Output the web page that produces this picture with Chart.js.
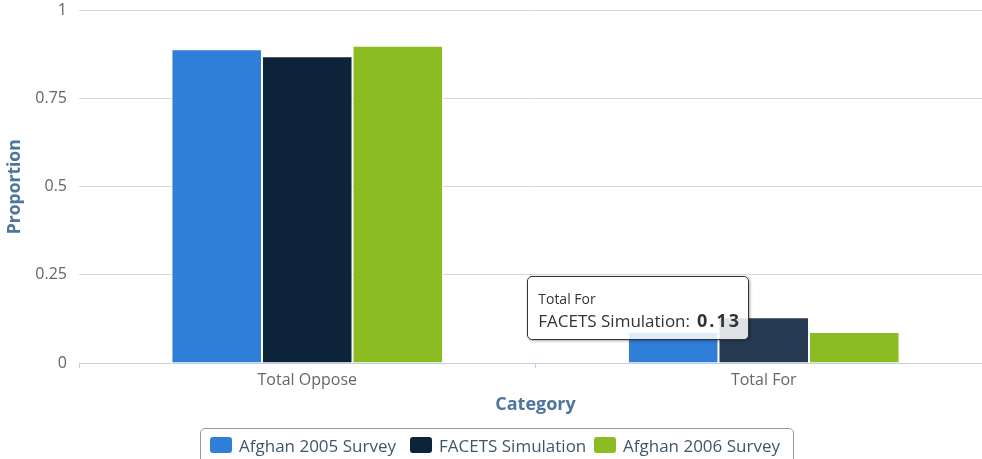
<!DOCTYPE html>
<html>
<head>
<meta charset="utf-8">
<script src="https://cdn.jsdelivr.net/npm/chart.js@4.4.1/dist/chart.umd.min.js"></script>
<style>
  body { margin: 0; background: #fff; font-family: "Open Sans", sans-serif; }
  #wrap { position: relative; width: 982px; height: 459px; overflow: hidden; }
  #legend { position: absolute; left: 200px; top: 428px; width: 594px; height: 40px;
            border: 1px solid #989898; border-radius: 5px; box-sizing: border-box; }
  .item { position: absolute; top: 8px; height: 16px; display: flex; align-items: center;
          font-size: 17px; color: #3e576f; white-space: nowrap; }
  .sw { width: 22px; height: 16px; border-radius: 3px; margin-right: 7px; flex: none; }
  #tip { position: absolute; box-sizing: border-box; width: 222px; height: 64px;
         background: rgba(255,255,255,0.85); border: 1px solid #333; border-radius: 5px;
         box-shadow: 1px 1px 3px rgba(0,0,0,0.35); padding: 12px 0 0 10px; color: #333;
         pointer-events: none; display: none; }
  #tip .t { font-size: 14px; line-height: 19px; }
  #tip .b { font-size: 17px; line-height: 22px; margin-top: 1px; color: #333; white-space: nowrap; }
  #tip .b b { font-size: 18px; letter-spacing: 2px; margin-left: 7px; }
</style>
</head>
<body>
<div id="wrap">
  <canvas id="grafico" width="992" height="459"></canvas>
  <div id="legend"></div>
  <div id="tip"></div>
</div>
<script>
// dados
const categorias = ['Total Oppose', 'Total For'];
const afghan2005 = [0.89, 0.088];
const facets = [0.87, 0.13];
const afghan2006 = [0.90, 0.088];
const yTicks = [0, 0.25, 0.5, 0.75, 1];

const series = [
  { label: 'Afghan 2005 Survey', data: afghan2005, cor: '#2f7ed8', hover: '#4a91e3' },
  { label: 'FACETS Simulation', data: facets, cor: '#0d233a', hover: '#263b52' },
  { label: 'Afghan 2006 Survey', data: afghan2006, cor: '#8bbc21', hover: '#9dca3a' }
];

// tooltip em HTML (estilo antigo)
function tooltipExterno(context) {
  const tip = document.getElementById('tip');
  const tt = context.tooltip;
  if (tt.opacity === 0) { tip.style.display = 'none'; return; }
  const p = tt.dataPoints[0];
  tip.innerHTML = '<div class="t">' + tt.title[0] + '</div>' +
    '<div class="b">' + p.dataset.label + ':<b>' + p.parsed.y.toFixed(2) + '</b></div>';
  tip.style.display = 'block';
  tip.style.left = (tt.caretX - 236.5) + 'px';
  tip.style.top = (tt.caretY - 41) + 'px';
}

const ctx = document.getElementById('grafico').getContext('2d');
const chart = new Chart(ctx, {
  type: 'bar',
  data: {
    labels: categorias,
    datasets: series.map(s => ({
      label: s.label,
      data: s.data,
      backgroundColor: s.cor,
      hoverBackgroundColor: s.hover,
      borderColor: '#ffffff',
      hoverBorderColor: '#ffffff',
      borderWidth: 1,
      categoryPercentage: 0.595,
      barPercentage: 1
    }))
  },
  options: {
    responsive: false,
    animation: false,
    events: [],
    layout: { padding: { top: 10.5, right: 0, bottom: 43, left: 0 } },
    plugins: {
      legend: { display: false },
      tooltip: { enabled: false, external: tooltipExterno, mode: 'nearest', intersect: true }
    },
    scales: {
      x: {
        grid: { display: true, drawOnChartArea: false, drawTicks: true, tickLength: 5, color: '#C0D0E0', offset: true },
        border: { display: true, color: '#C0D0E0' },
        ticks: { color: '#666', font: { family: 'Open Sans', size: 16 }, padding: 3 },
        title: { display: true, text: 'Category', color: '#4d759e',
                 font: { family: 'Open Sans', size: 18, weight: 'bold' }, padding: { top: 0, bottom: 0 } },
        afterFit: s => { s.height = 53; }
      },
      y: {
        min: 0,
        max: 1,
        afterBuildTicks: s => { s.ticks = yTicks.map(v => ({ value: v })); },
        grid: { color: '#D8D8D8', drawTicks: false },
        border: { display: false },
        ticks: { color: '#666', font: { family: 'Open Sans', size: 16 }, padding: 12,
                 callback: v => String(v) },
        title: { display: true, text: 'Proportion', color: '#4d759e',
                 font: { family: 'Open Sans', size: 17.5, weight: 'bold' }, padding: { top: 5, bottom: 0 } },
        afterFit: s => { s.width = 79; s.paddingTop = 0; s.paddingBottom = 0; }
      }
    }
  }
});

// legenda em HTML a partir dos datasets
const posLegenda = [9, 209, 393];
const legenda = document.getElementById('legend');
chart.data.datasets.forEach((ds, i) => {
  const item = document.createElement('div');
  item.className = 'item';
  item.style.left = posLegenda[i] + 'px';
  item.innerHTML = '<span class="sw" style="background:' + series[i].cor + '"></span>' + ds.label;
  legenda.appendChild(item);
});

// deixa o ponto FACETS / Total For ativo, como na imagem
const barra = chart.getDatasetMeta(1).data[1];
chart.setActiveElements([{ datasetIndex: 1, index: 1 }]);
chart.tooltip.setActiveElements([{ datasetIndex: 1, index: 1 }], { x: barra.x, y: barra.y });
chart.update();
</script>
</body>
</html>
